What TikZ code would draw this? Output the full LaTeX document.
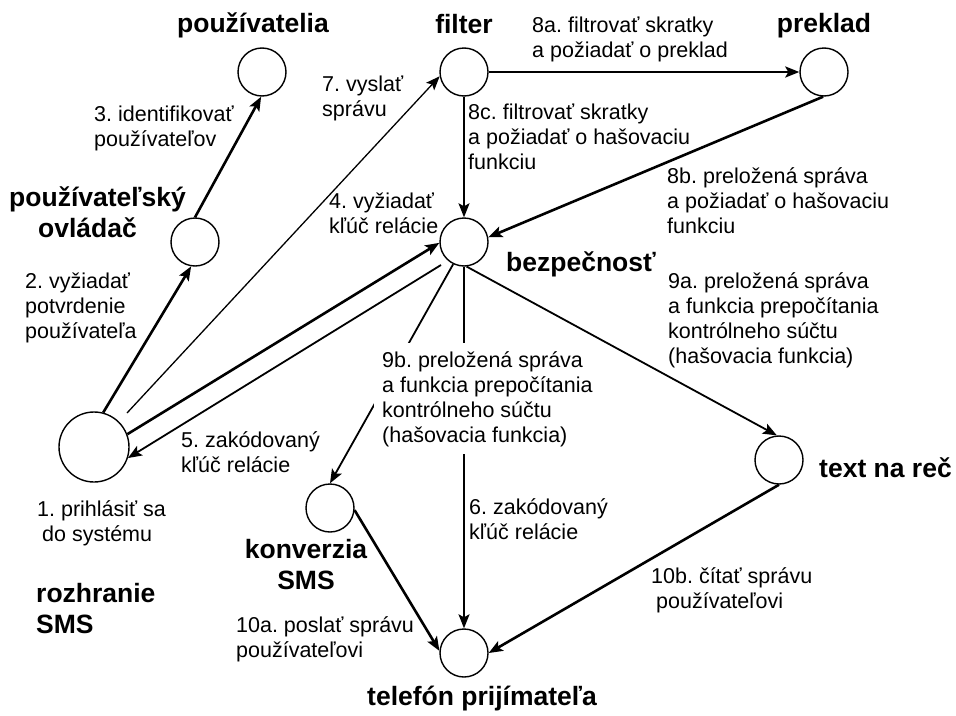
\documentclass[tikz,border=0pt]{standalone}
\usepackage{fontspec}
\setmainfont{Liberation Sans}
\usetikzlibrary{arrows.meta}
\frenchspacing
\begin{document}
\begin{tikzpicture}[x=1pt,y=-1pt,
  proc/.style={circle,draw,line width=1.4pt,inner sep=0pt,minimum size=48pt},
  bigproc/.style={proc,minimum size=70pt},
  elab/.style={font=\frenchspacing\fontsize{21.5}{25}\selectfont,align=left,inner sep=0pt,anchor=base west},
  nlab/.style={font=\bfseries\fontsize{26.5}{31}\selectfont,inner sep=0pt},
  tip/.style={-{Stealth[length=14pt,width=11pt,inset=3pt]}},
  thinl/.style={tip,line width=1.3pt},
  medl/.style={tip,line width=1.8pt},
  thickl/.style={tip,line width=2.6pt}]
\useasboundingbox (0,0) rectangle (956,715);
% processes
\node[proc] (U) at (262,72) {};
\node[proc] (F) at (464,72) {};
\node[proc] (P) at (824,72) {};
\node[proc] (O) at (195,242) {};
\node[proc] (B) at (464,242) {};
\node[bigproc] (R) at (94,447) {};
\node[proc] (K) at (330,508) {};
\node[proc] (T) at (464,653) {};
\node[proc] (X) at (779,460) {};
% free ends
\coordinate (f1) at (127,413);
\coordinate (b5) at (441,265);
% names (base = baseline of the last line)
\node[nlab,anchor=base] (Un) at (253,32.5) {používatelia};
\node[nlab,anchor=base] (Fn) at (464,33) {filter};
\node[nlab,anchor=base] (Pn) at (824,32) {preklad};
\node[nlab,anchor=base west,align=left] (On) at (9,237) {používateľský\\\hspace*{29pt}ovládač};
\node[nlab,anchor=base west] (Bn) at (506,271.5) {bezpečnosť};
\node[nlab,anchor=base west,align=left] (Rn) at (36,633) {rozhranie\\SMS};
\node[nlab,anchor=base,align=center] (Kn) at (306,589) {konverzia\\SMS};
\node[nlab,anchor=base] (Tn) at (482,705) {telefón prijímateľa};
\node[nlab,anchor=base west] (Xn) at (819,477) {text na reč};
% connectors
\draw[thickl] (R.75.6) -- (O.261);
\draw[thickl] (O.90) -- (U.268);
\draw[thinl] (f1) -- (F.190);
\draw[thickl] (R.21) -- (B.182);
\draw[medl] (b5) -- (R.342);
\draw[thickl] (F.0) -- (P.180);
\draw[medl] (F.270) -- (B.90);
\draw[thickl] (P.268) -- (B.11);
\draw[medl] (B.244) -- (K.90);
\draw[medl] (B.270) -- (T.90);
\draw[medl] (B.276) -- (X.95);
\draw[thickl] (K.355) -- (T.175);
\draw[thickl] (X.270) -- (T.0);
% connector labels (base = baseline of the last line)
\node[elab] (l1) at (37,541) {1. prihlásiť sa\\\hspace*{5pt}do systému};
\node[elab] (l2) at (25,338) {2. vyžiadať\\potvrdenie\\používateľa};
\node[elab] (l3) at (94,146) {3. identifikovať\\používateľov};
\node[elab] (l4) at (329,233) {4. vyžiadať\\kľúč relácie};
\node[elab] (l5) at (181,472) {5. zakódovaný\\kľúč relácie};
\node[elab] (l6) at (469,539) {6. zakódovaný\\kľúč relácie};
\node[elab] (l7) at (322,116) {7. vyslať\\správu};
\node[elab] (l8a) at (532,57) {8a. filtrovať skratky\\a požiadať o preklad};
\node[elab] (l8b) at (667,233) {8b. preložená správa\\a požiadať o hašovaciu\\funkciu};
\node[elab] (l8c) at (468,169) {8c. filtrovať skratky\\a požiadať o hašovaciu\\funkciu};
\node[elab] (l9a) at (668,363) {9a. preložená správa\\a funkcia prepočítania\\kontrólneho súčtu\\(hašovacia funkcia)};
\node[elab,fill=white,inner sep=8pt] (l9b) at (374,442) {9b. preložená správa\\a funkcia prepočítania\\kontrólneho súčtu\\(hašovacia funkcia)};
\node[elab] (l10a) at (236,657) {10a. poslať správu\\používateľovi};
\node[elab] (l10b) at (651,608) {10b. čítať správu\\\hspace*{5pt}používateľovi};
\end{tikzpicture}
\end{document}
